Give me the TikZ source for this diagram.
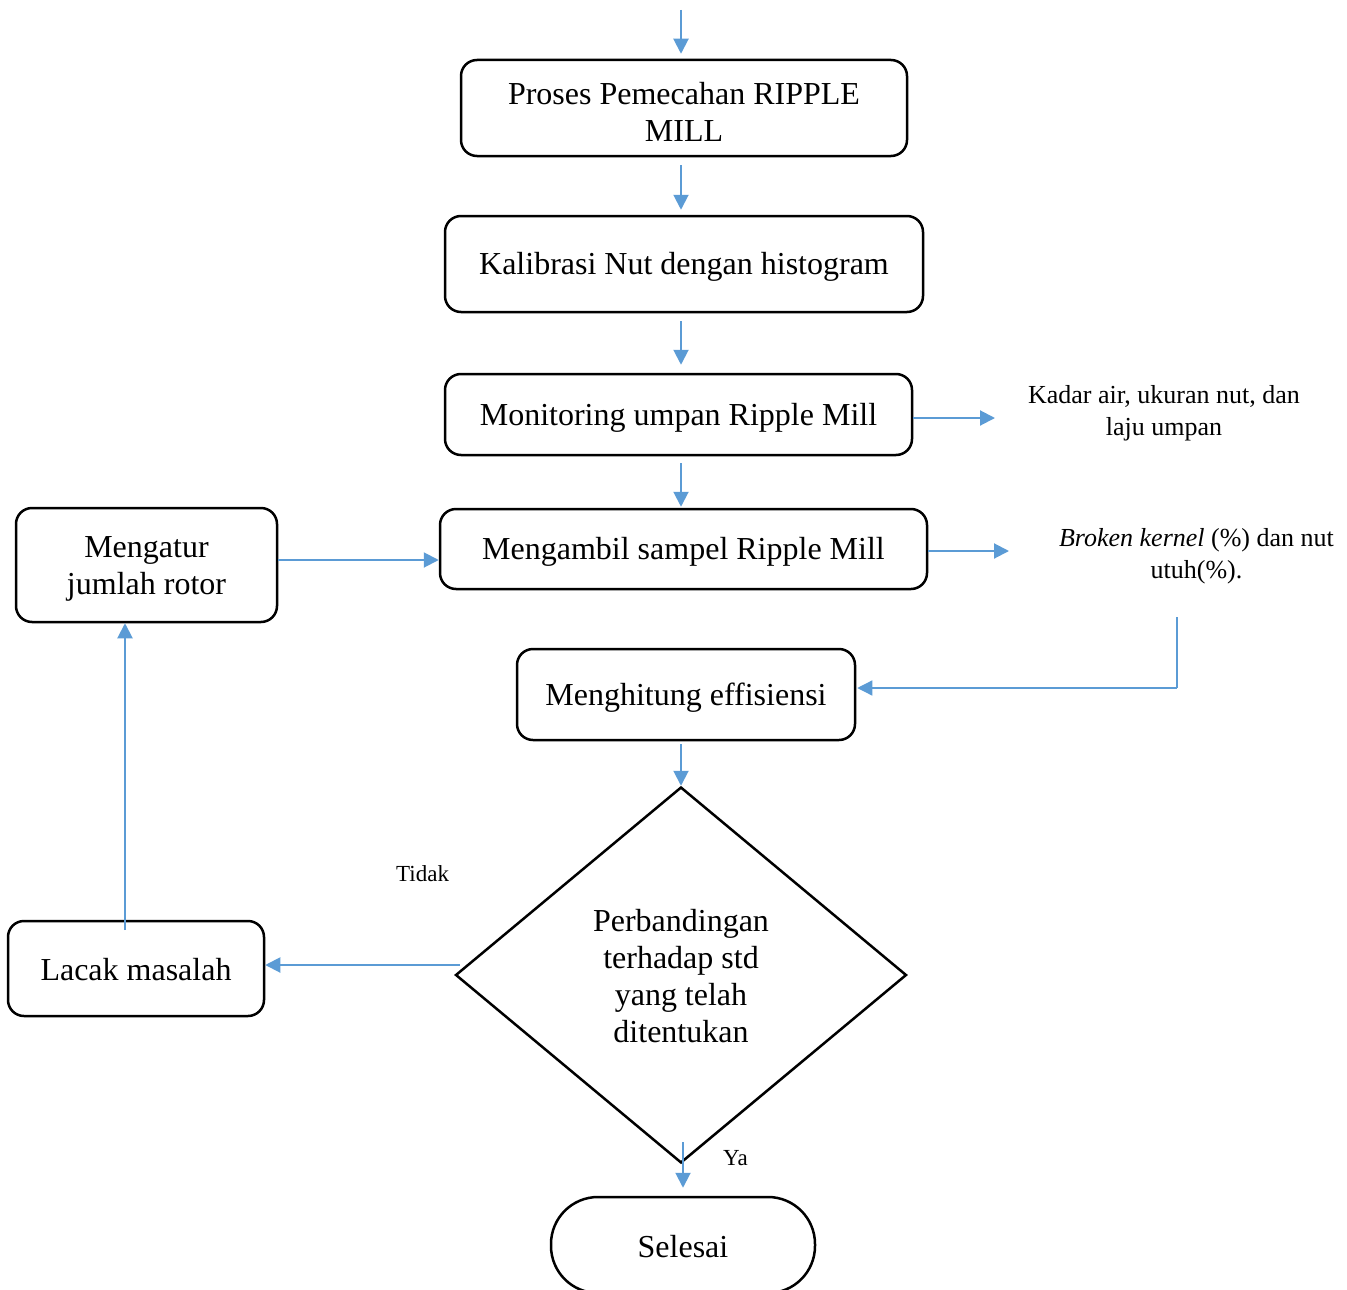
\documentclass[tikz,border=0pt]{standalone}
\usepackage{fontspec}
\setmainfont{Liberation Serif}
\usetikzlibrary{arrows.meta,shapes.geometric,calc}
\definecolor{arrblue}{RGB}{91,155,213}
\newcommand\mystrut{\rule[-4pt]{0pt}{32pt}}
\newcommand\topstrut{\rule[-1pt]{0pt}{32pt}}
\newcommand\sidestrut{\rule[-4pt]{0pt}{26pt}}
\begin{document}
\begin{tikzpicture}[x=1pt,y=-1pt,
  box/.style={draw=black,line width=2.5pt,rounded corners=16pt,align=center,inner sep=0pt,
    font=\fontsize{32}{37}\selectfont},
  side/.style={align=center,font=\fontsize{26}{31.5}\selectfont,inner sep=0pt},
  lbl/.style={font=\fontsize{23}{26}\selectfont,inner sep=0pt},
  arr/.style={draw=arrblue,line width=2pt,-{Triangle[length=15pt,width=15pt]}},
  thin/.style={draw=arrblue,line width=1.3pt}]
\useasboundingbox (0,0) rectangle (1347,1290);
\coordinate (X) at (681,0);
\coordinate (top) at (681,10);
% nodes
\node[box,minimum width=446pt,minimum height=96pt] (b1) at (684,108) {\topstrut Proses Pemecahan RIPPLE\\\topstrut MILL};
\node[box,minimum width=478pt,minimum height=96pt] (b2) at (684,264) {\mystrut Kalibrasi Nut dengan histogram};
\node[box,minimum width=467pt,minimum height=81pt] (b3) at (678.5,414.5) {\mystrut Monitoring umpan Ripple Mill};
\node[box,minimum width=487pt,minimum height=80pt] (b4) at (683.5,549) {\mystrut Mengambil sampel Ripple Mill};
\node[box,minimum width=338pt,minimum height=91pt] (b5) at (686,694.5) {\mystrut Menghitung effisiensi};
\node[box,shape=diamond,aspect=1.2,minimum width=451pt,minimum height=376pt,rounded corners=0pt] (d) at (681,975) {};
\node[align=center,font=\fontsize{32}{37.3}\selectfont,inner sep=0pt] (dt) at (681,975)
  {\mystrut Perbandingan\\\mystrut terhadap std\\\mystrut yang telah\\\mystrut ditentukan};
\node[box,minimum width=264pt,minimum height=96pt,rounded corners=47pt] (end) at (683,1245) {\mystrut Selesai};
\node[box,minimum width=256pt,minimum height=95pt] (lacak) at (136,968.5) {\mystrut Lacak masalah};
\node[box,minimum width=261pt,minimum height=114pt] (atur) at (146.5,565) {\mystrut Mengatur\\\mystrut jumlah rotor};
\node[side] (s1) at (1164,411.5) {\sidestrut Kadar air, ukuran nut, dan\\\sidestrut laju umpan};
\node[side] (s2) at (1196.5,554.5) {\sidestrut\textit{Broken kernel} (\%) dan nut\\\sidestrut utuh(\%).};
\node[lbl,anchor=base west] (tidak) at (396,881) {Tidak};
\node[lbl,anchor=base west] (ya) at (723,1165) {Ya};
% arrow coordinates
\coordinate (s1a) at (995,418);
\coordinate (s2a) at (1009,551);
\coordinate (fb1) at (1177,617);
\coordinate (fb2) at (1177,688);
\coordinate (ya1) at (683,1142);
\coordinate (tl) at (460,965);
\coordinate (lu) at (125,930);
% connectors
\draw[arr] (top) -- ([yshift=5pt]b1.north -| X);
\draw[arr,shorten <=8pt,shorten >=5pt] (b1.south -| X) -- (b2.north -| X);
\draw[arr,shorten <=8pt,shorten >=8pt] (b2.south -| X) -- (b3.north -| X);
\draw[arr,shorten <=7pt,shorten >=1pt] (b3.south -| X) -- (b4.north -| X);
\draw[arr,shorten <=3pt] (b5.south -| X) -- (d.north);
\draw[arr] (b3.east |- s1a) -- (s1a);
\draw[arr] (b4.east |- s2a) -- (s2a);
\draw[thin] (fb1) -- (fb2);
\draw[arr,line width=1.3pt] (fb2) -- ([xshift=1pt]b5.east |- fb2);
\draw[arr] (ya1) -- ([yshift=8pt]end.north -| ya1);
\draw[arr] (tl) -- (lacak.east |- tl);
\draw[arr] (lu) -- (atur.south -| lu);
\draw[arr] (atur.east |- 0,560) -- (b4.west |- 0,560);
\end{tikzpicture}
\end{document}
